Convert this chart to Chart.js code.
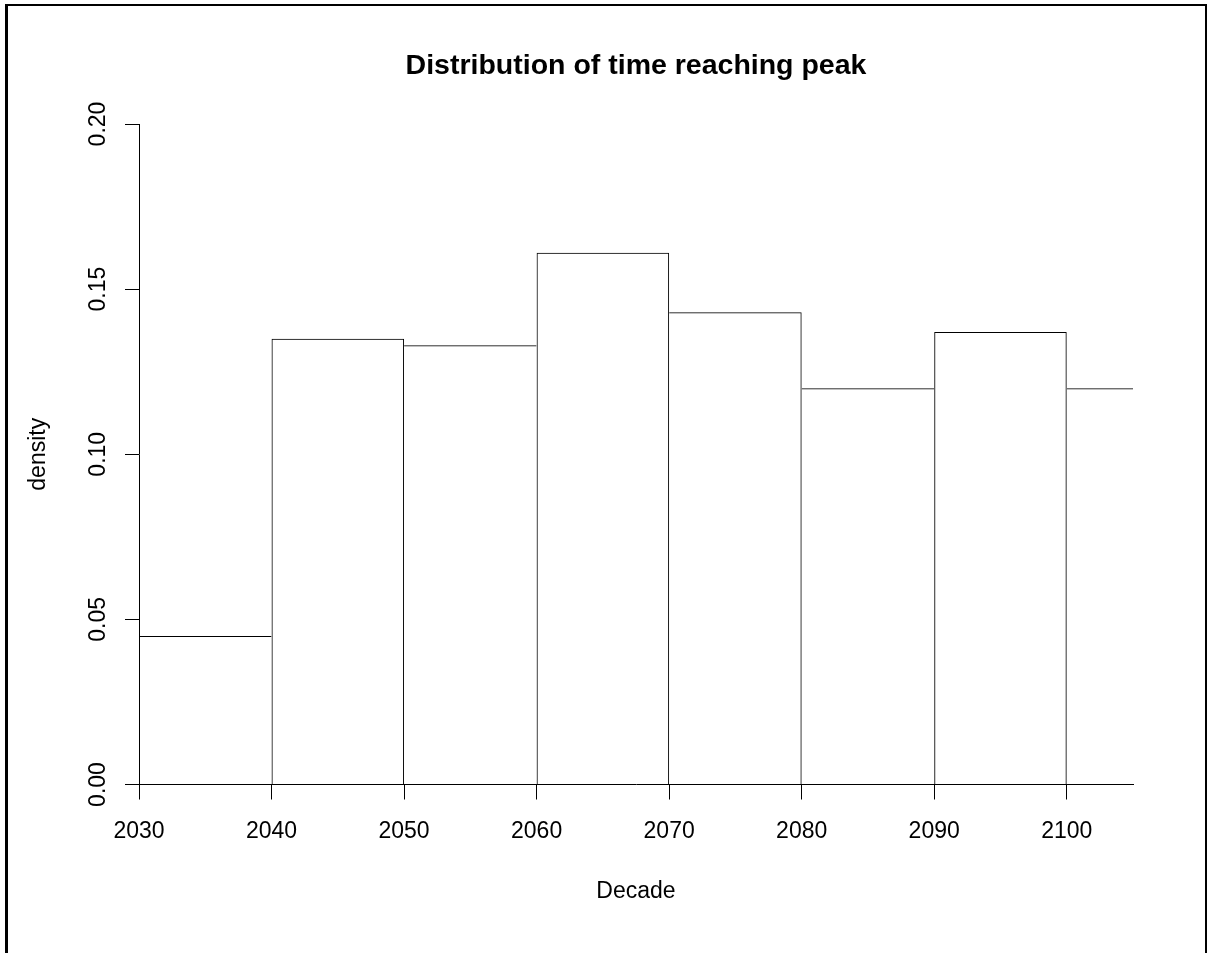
<!DOCTYPE html>
<html>
<head>
<meta charset="utf-8">
<script src="https://cdn.jsdelivr.net/npm/chart.js@4.4.1/dist/chart.umd.min.js"></script>
<style>
  html, body { margin: 0; padding: 0; background: #fff; overflow: hidden; }
  #wrap { position: relative; width: 1207px; height: 953px; }
  #frame { position: absolute; left: 5px; top: 4px; width: 1197px; height: 960px;
           border-top: 2px solid #000; border-right: 2px solid #000; border-left: 3px solid #000; pointer-events: none; }
  canvas { position: absolute; left: 0; top: 0; }
</style>
</head>
<body>
<div id="wrap">
  <canvas id="hist" width="1207" height="953"></canvas>
  <div id="frame"></div>
</div>
<script>
// bins (start year of each decade) and density
var binStarts = [2030, 2040, 2050, 2060, 2070, 2080, 2090, 2100];
var density = [0.045, 0.135, 0.133, 0.161, 0.143, 0.120, 0.137, 0.120];
var binWidth = 10;
var xTicks = [2030, 2040, 2050, 2060, 2070, 2080, 2090, 2100];
var yTicks = [0, 0.05, 0.10, 0.15, 0.20];

Chart.defaults.font.family = "'Liberation Sans', Arial, sans-serif";
Chart.defaults.color = '#000';

var lineCol = '#000';

// only the taller bar draws a shared edge, so every edge is one line
function edges(c) {
    var i = c.dataIndex;
    var v = density[i];
    var prev = i > 0 ? density[i - 1] : -1;
    var next = i < density.length - 1 ? density[i + 1] : -1;
    return { top: 1, left: v >= prev ? 1 : 0, right: v > next ? 1 : 0, bottom: 0 };
}

var ctx = document.getElementById('hist');
var chart = new Chart(ctx, {
    type: 'bar',
    data: {
        datasets: [{
            label: 'density',
            data: binStarts.map(function (b, i) { return { x: b + binWidth / 2, y: density[i] }; }),
            backgroundColor: 'rgba(255,255,255,0)',
            borderColor: lineCol,
            borderWidth: edges,
            borderSkipped: 'start',
            inflateAmount: 0,
            barPercentage: 1,
            categoryPercentage: 1,
            grouped: false,
            clip: 0
        }]
    },
    options: {
        responsive: false,
        devicePixelRatio: 1,
        animation: false,
        layout: { padding: { left: 0, right: 74, top: 0, bottom: 0 } },
        plugins: {
            legend: { display: false },
            tooltip: { enabled: false },
            title: {
                display: true,
                fullSize: false,
                text: 'Distribution of time reaching peak',
                color: '#000',
                font: { size: 28.5, weight: 'bold' },
                padding: { top: 49.4, bottom: 40.4 }
            }
        },
        scales: {
            x: {
                type: 'linear',
                min: 2030,
                max: 2105,
                offset: false,
                afterBuildTicks: function (s) { s.ticks = xTicks.map(function (v) { return { value: v }; }); },
                afterFit: function (s) { s.height = 168.5; },
                grid: { display: true, offset: false, drawOnChartArea: false, drawTicks: true, tickLength: 15, color: lineCol },
                border: { display: true, color: lineCol, width: 1 },
                ticks: {
                    color: '#000',
                    font: { size: 23 },
                    padding: 18,
                    maxRotation: 0,
                    callback: function (v) { return String(v); }
                },
                title: { display: true, text: 'Decade', color: '#000', font: { size: 23 }, padding: { top: 0, bottom: 48 } }
            },
            y: {
                min: 0,
                max: 0.2,
                afterBuildTicks: function (s) { s.ticks = yTicks.map(function (v) { return { value: v }; }); },
                afterFit: function (s) { s.width = 139; },
                grid: { display: true, drawOnChartArea: false, drawTicks: true, tickLength: 14, color: lineCol },
                border: { display: true, color: lineCol, width: 1 },
                ticks: {
                    color: '#000',
                    font: { size: 23 },
                    padding: 4,
                    minRotation: 90,
                    maxRotation: 90,
                    crossAlign: 'center',
                    callback: function (v) { return Number(v).toFixed(2); }
                },
                title: { display: true, text: 'density', color: '#000', font: { size: 23 }, padding: { top: 25, bottom: 0 } }
            }
        }
    }
});
</script>
</body>
</html>
